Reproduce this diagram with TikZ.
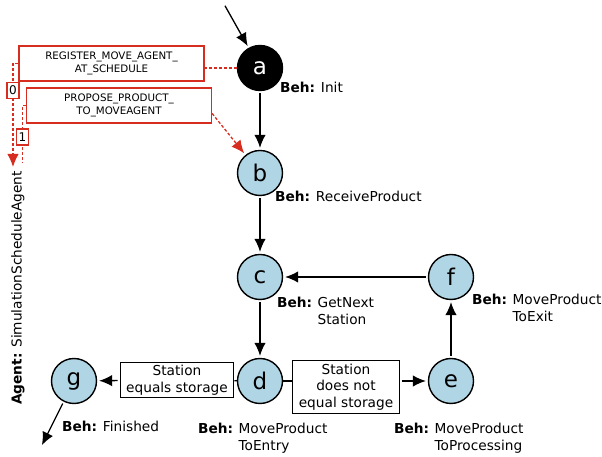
\documentclass[tikz,border=0pt]{standalone}
\usepackage{fontspec}
\setmainfont{DejaVu Sans}
\usetikzlibrary{arrows.meta, automata, positioning}

\definecolor{behblue}{RGB}{176,214,230}
\definecolor{msgred}{RGB}{214,45,32}

\newcommand{\beh}[2]{\begin{tabular}[t]{@{}l@{\hspace{0.4em}}l@{}}\textbf{Beh:} & #1\\ & #2\end{tabular}}

\tikzset{
  every state/.style={draw, line width=1.4pt, fill=behblue, minimum size=45pt, inner sep=0pt, font=\fontsize{23}{23}\selectfont},
  beh/.style={anchor=base west, inner sep=0pt, font=\fontsize{13.7}{16.5}\selectfont},
  cond/.style={draw, fill=white, line width=1pt, align=center, inner xsep=6pt, inner ysep=3pt, font=\fontsize{13.7}{16.5}\selectfont},
  msg/.style={draw=msgred, line width=1.3pt, fill=white, minimum width=185pt, minimum height=35pt, align=center, inner sep=2pt, font=\fontsize{10.3}{13}\selectfont},
  tag/.style={draw=msgred, solid, line width=1.3pt, fill=white, text=black, minimum width=12pt, minimum height=16pt, inner sep=1pt, font=\fontsize{12}{12}\selectfont},
  flow/.style={->, line width=1.3pt, shorten >=2pt, shorten <=2pt},
  plain/.style={line width=1.3pt},
  reddash/.style={draw=msgred, line width=1.3pt, dash pattern=on 3pt off 2pt},
}

\begin{document}
\begin{tikzpicture}[x=1pt, y=1pt, >={Latex[length=13pt,width=11.5pt]}]
    \useasboundingbox (0,0) rectangle (602,457);

    % states of the move agent
    \node[state, fill=black, text=white] (a) at (260,389) {a};
    \node[state] (b) at (260,284) {b};
    \node[state] (c) at (260,180) {c};
    \node[state] (d) at (260,76) {d};
    \node[state] (e) at (451,76) {e};
    \node[state] (f) at (451,180) {f};
    \node[state] (g) at (74,76) {g};

    % behaviours
    \node[beh] (la) at (280,364) {\textbf{Beh:} Init};
    \node[beh] (lb) at (275,255) {\textbf{Beh:} ReceiveProduct};
    \node[beh] (lc) at (277,149) {\beh{GetNext}{Station}};
    \node[beh] (lf) at (472,152) {\beh{MoveProduct}{ToExit}};
    \node[beh] (ld) at (198,23) {\beh{MoveProduct}{ToEntry}};
    \node[beh] (le) at (394,23) {\beh{MoveProduct}{ToProcessing}};
    \node[beh] (lg) at (62,25) {\textbf{Beh:} Finished};

    % guards
    \node[cond] (eq) at (177,77) {Station\\equals storage};
    \node[cond] (neq) at (346,70) {Station\\does not\\equal storage};

    \coordinate (start) at (224,453);
    \coordinate (finish) at (41,10);

    \draw
    (start) edge[flow] (a)
    (a) edge[flow] (b)
    (b) edge[flow] (c)
    (c) edge[flow] (d)
    (f) edge[flow] (c)
    (e) edge[flow] (f)
    (d) edge[plain] (eq)
    (eq) edge[flow] (g)
    (d) edge[plain] (d -| neq.west)
    (neq.east |- e) edge[flow] (e)
    (g) edge[flow] (finish);

    % messages
    \node[msg] (reg) at (111.5,393.5) {REGISTER\_MOVE\_AGENT\_\\AT\_SCHEDULE};
    \node[msg] (prop) at (119,351.5) {PROPOSE\_PRODUCT\_\\TO\_MOVEAGENT};

    \coordinate (agent0) at (13,290);
    \coordinate (agent1) at (22.5,294);

    \draw[reddash] (a) -- (a -| reg.east);
    \draw[reddash, ->] (reg.west) -- (agent0 |- reg.west) -- node[tag, pos=0.26] {0} (agent0);
    \draw[reddash] (prop.west) -- (agent1 |- prop.west) -- node[tag, pos=0.55] {1} (agent1);
    \draw[reddash, ->, shorten >=2pt] ([yshift=-8pt]prop.east) -- (b);

    \node[rotate=90, font=\fontsize{13.7}{16.5}\selectfont] (agent) at (18,169) {\textbf{Agent:} SimulationScheduleAgent};
\end{tikzpicture}
\end{document}
